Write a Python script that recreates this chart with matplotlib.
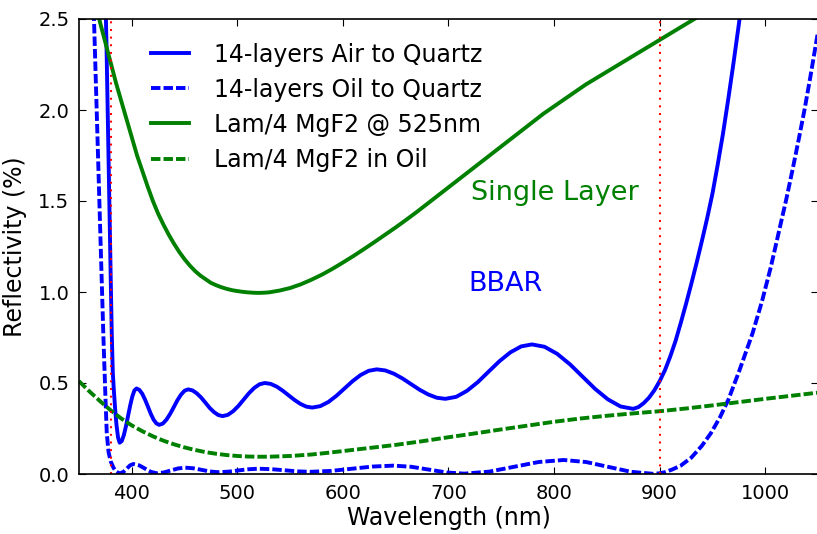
import matplotlib
matplotlib.use("Agg")
import matplotlib.pyplot as plt

# 14-layer broadband AR coating, air -> quartz
wl_air = [374, 376, 378, 380, 381, 382, 383, 384.2, 385.5, 387, 388.5,
          390.5, 392.5, 394.5, 396.5, 398.5, 400.5, 402.5, 404.5,
          407.2, 409.9, 412.6, 415.3, 417.9, 420.6, 423.3, 426,
          429.4, 432.9, 436.3, 439.8, 443.2, 446.6, 450.1, 453.5,
          457.6, 461.6, 465.7, 469.8, 473.8, 477.9, 481.9, 486,
          491, 496, 501, 506, 511, 516, 521, 526,
          531.6, 537.3, 542.9, 548.5, 554.1, 559.8, 565.4, 571,
          578.6, 586.3, 593.9, 601.5, 609.1, 616.8, 624.4, 632,
          640.1, 648.3, 656.4, 664.5, 672.6, 680.8, 688.9, 697,
          707.3, 717.5, 727.8, 738, 748.3, 758.5, 768.8, 779,
          791, 803, 815, 827, 839, 851, 863, 875,
          880, 885, 890, 895, 900, 905, 910, 915, 920, 925, 930, 935, 940,
          945, 950, 955, 960, 965, 970, 975, 980]
r_air = [2.9, 2.37, 1.73, 1.09, 0.78, 0.56, 0.46, 0.36, 0.27, 0.20, 0.172,
         0.181, 0.214, 0.263, 0.32, 0.377, 0.426, 0.459, 0.47,
         0.462, 0.441, 0.408, 0.37, 0.332, 0.299, 0.278, 0.27,
         0.277, 0.299, 0.33, 0.3675, 0.405, 0.436, 0.458, 0.465,
         0.459, 0.443, 0.42, 0.3915, 0.363, 0.34, 0.324, 0.318,
         0.325, 0.345, 0.374, 0.409, 0.444, 0.473, 0.493, 0.50,
         0.495, 0.48, 0.458, 0.4325, 0.407, 0.385, 0.37, 0.365,
         0.373, 0.396, 0.43, 0.47, 0.51, 0.544, 0.567, 0.575,
         0.569, 0.551, 0.525, 0.494, 0.463, 0.437, 0.419, 0.413,
         0.424, 0.457, 0.505, 0.5625, 0.62, 0.668, 0.701, 0.712,
         0.699, 0.66, 0.603, 0.535, 0.467, 0.41, 0.371, 0.358,
         0.368, 0.39, 0.42, 0.46, 0.51, 0.57, 0.645, 0.73, 0.83, 0.935, 1.045, 1.16, 1.28,
         1.405, 1.54, 1.70, 1.87, 2.06, 2.26, 2.47, 2.69]

# 14-layer broadband AR coating, oil -> quartz
wl_oil = [362, 364.2, 367, 370, 373, 375, 376.3, 378, 380, 382.6, 385, 387, 389, 392.1, 395.25,
          398.4, 401.5, 407, 412.6, 418.2, 423.7, 430.4, 437.1, 443.8, 450.5, 458.4, 466.3, 474.1, 482, 491.5,
          501, 510.5, 520, 532.3, 544.5, 556.8, 569, 588.8, 608.5, 628.3, 648, 664.8, 681.5, 698.3, 715,
          738.5, 762, 785.5, 809, 830.3, 851.5, 872.8, 894, 900, 905, 912, 920, 930, 940,
          948.5, 957, 965, 975, 988, 997, 1005.4, 1012.5, 1019.6, 1026, 1032.3, 1037.5, 1042.7, 1050]
r_oil = [2.95, 2.5, 1.95, 1.36, 0.775, 0.43, 0.224, 0.12, 0.07, 0.035, 0.015, 0.007, 0.004, 0.0115, 0.0295,
         0.0475, 0.055, 0.0475, 0.0295, 0.0115, 0.004, 0.0085, 0.0195, 0.0305, 0.035, 0.0313, 0.0225, 0.0137, 0.01, 0.0128,
         0.0195, 0.0262, 0.029, 0.0265, 0.0205, 0.0145, 0.012, 0.017, 0.029, 0.041, 0.046, 0.0396, 0.024, 0.0084, 0.002,
         0.013, 0.0395, 0.066, 0.077, 0.0659, 0.039, 0.0121, 0.001, 0.004, 0.01, 0.025, 0.046, 0.09, 0.155,
         0.224, 0.31, 0.407, 0.56, 0.773, 0.95, 1.139, 1.32, 1.50, 1.675, 1.855, 2.01, 2.18, 2.43]

# quarter-wave MgF2 single layer, design wavelength 525 nm, in air
wl_mgf2 = [365, 370, 375, 380, 385, 390, 395, 400, 405, 410, 415, 420, 425, 430, 435,
           440, 445, 450, 455, 460, 465, 470, 475, 480, 485, 490, 495, 500, 505, 510,
           515, 520, 525, 530, 540, 550, 560, 570, 580, 590, 600, 610, 620, 630, 640,
           650, 660, 670, 680, 690, 700, 710, 720, 730, 740, 750, 760, 770, 780, 790,
           800, 810, 820, 830, 840, 850, 860, 870, 880, 890, 900, 910, 920, 930, 940]
r_mgf2 = [2.6, 2.48, 2.37, 2.26, 2.15, 2.05, 1.95, 1.85, 1.75, 1.665, 1.58, 1.50, 1.43, 1.37, 1.315,
          1.265, 1.22, 1.18, 1.145, 1.115, 1.09, 1.07, 1.05, 1.037, 1.026, 1.017, 1.01, 1.005, 1.001, 0.998,
          0.996, 0.995, 0.996, 0.998, 1.008, 1.022, 1.042, 1.067, 1.095, 1.127, 1.162, 1.198, 1.236, 1.275, 1.315,
          1.355, 1.397, 1.44, 1.485, 1.53, 1.575, 1.62, 1.665, 1.71, 1.755, 1.80, 1.845, 1.89, 1.935, 1.98,
          2.02, 2.06, 2.10, 2.14, 2.175, 2.21, 2.245, 2.28, 2.315, 2.35, 2.385, 2.42, 2.455, 2.49, 2.525]

# the same MgF2 layer immersed in oil
wl_mgf2_oil = [350, 360, 370, 380, 390, 400, 410, 420, 430, 440, 450, 460, 470, 480, 490,
               500, 510, 520, 530, 540, 550, 560, 570, 585, 600, 625, 650, 675, 700, 725,
               750, 775, 800, 825, 850, 875, 900, 925, 950, 975, 1000, 1025, 1050]
r_mgf2_oil = [0.51, 0.453, 0.40, 0.35, 0.305, 0.267, 0.235, 0.207, 0.183, 0.163, 0.146, 0.132, 0.12, 0.111, 0.104,
              0.099, 0.096, 0.095, 0.095, 0.097, 0.099, 0.103, 0.107, 0.116, 0.126, 0.143, 0.16, 0.18, 0.202, 0.223,
              0.245, 0.266, 0.287, 0.305, 0.32, 0.333, 0.345, 0.36, 0.377, 0.395, 0.413, 0.43, 0.447]

band_edges = [380, 900]
x_ticks = [400, 500, 600, 700, 800, 900, 1000]
y_ticks = [0.0, 0.5, 1.0, 1.5, 2.0, 2.5]

plt.rcParams["font.family"] = ["DejaVu Sans"]
plt.rcParams["lines.scale_dashes"] = False

fig = plt.figure(figsize=(8.17, 5.34), dpi=100, facecolor="white")
ax = fig.add_axes([79 / 817, 60 / 534, 739 / 817, 455 / 534])

lw = 2.8
dash = (6.8, 2.2)
common = dict(lw=lw, solid_joinstyle="round", dash_joinstyle="round")
ax.plot(wl_air, r_air, color="b", label="14-layers Air to Quartz", **common)
ax.plot(wl_oil, r_oil, color="b", dashes=dash, label="14-layers Oil to Quartz", **common)
ax.plot(wl_mgf2, r_mgf2, color="g", label="Lam/4 MgF2 @ 525nm", **common)
ax.plot(wl_mgf2_oil, r_mgf2_oil, color="g", dashes=dash, label="Lam/4 MgF2 in Oil", **common)
for edge in band_edges:
    ax.axvline(edge, color="r", lw=1.5, dashes=(1.4, 4.1))

ax.text(721, 1.545, "Single Layer", color="g", fontsize=19.5, va="center", ha="left")
ax.text(719, 1.045, "BBAR", color="b", fontsize=19.5, va="center", ha="left")

ax.set_xlim(350, 1050)
ax.set_ylim(0, 2.5)
ax.set_xticks(x_ticks)
ax.set_yticks(y_ticks)
ax.set_yticklabels([f"{v:.1f}" for v in y_ticks])
ax.tick_params(direction="in", length=5, width=0.8, top=True, right=True,
               labelsize=14, pad=7)
for s in ax.spines.values():
    s.set_linewidth(1.2)

ax.set_xlabel("Wavelength (nm)", fontsize=17, labelpad=2)
ax.set_ylabel("Reflectivity (%)", fontsize=17, labelpad=8)

ax.legend(loc="upper left", bbox_to_anchor=(0.0848, 0.969), borderaxespad=0,
          frameon=False, fontsize=17, handlelength=1.6, handletextpad=1.05,
          labelspacing=0.47, borderpad=0.4)

fig.savefig("out.png", dpi=100, facecolor="white")
